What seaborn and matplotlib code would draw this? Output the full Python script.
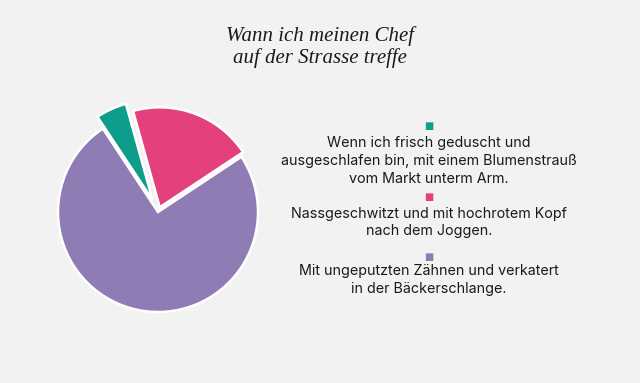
import matplotlib.pyplot as plt
import seaborn as sns

# Slice data, clockwise from the small teal slice
labels = [
    "Wenn ich frisch geduscht und\nausgeschlafen bin, mit einem Blumenstrauß\nvom Markt unterm Arm.",
    "Nassgeschwitzt und mit hochrotem Kopf\nnach dem Joggen.",
    "Mit ungeputzten Zähnen und verkatert\nin der Bäckerschlange.",
]
values = [5, 20, 75]
colors = ["#0e9c8b", "#e4407b", "#8f7cb4"]
explode = [0.13, 0.05, 0.0]
title = "Wann ich meinen Chef\nauf der Strasse treffe"


def main():
    sns.set_theme(style="white")
    bg = "#f2f2f2"
    fig = plt.figure(figsize=(6.4, 3.83), dpi=100, facecolor=bg)

    # pie axes: centre ~ (158, 212) px, radius ~100 px
    cx, cy, r = 158 / 640, 1 - 212 / 383, 100
    ax = fig.add_axes([cx - r / 640, cy - r / 383, 2 * r / 640, 2 * r / 383])
    ax.set_facecolor(bg)
    ax.pie(values, colors=colors, explode=explode, startangle=123.5,
           counterclock=False,
           wedgeprops=dict(edgecolor="white", linewidth=1.8))
    ax.set_xlim(-1, 1)
    ax.set_ylim(-1, 1)
    ax.set_aspect("equal")
    ax.axis("off")
    for p in ax.patches:
        p.set_clip_on(False)

    fig.text(0.5, 1 - 47 / 383, title, ha="center", va="center",
             family="Liberation Serif", style="italic", fontsize=15,
             color="#1a1a1a", linespacing=1.1)

    # legend: square marker above centred text
    marker_y = [126, 197, 257]
    text_y = [161, 222.5, 280]
    lx = 429 / 640
    for lab, c, my, ty in zip(labels, colors, marker_y, text_y):
        fig.text(lx, 1 - my / 383, "■", ha="center", va="center",
                 color=c, fontsize=7, family="DejaVu Sans")
        fig.text(lx, 1 - ty / 383, lab, ha="center", va="center",
                 family="Inter", fontsize=10.3, color="#1a1a1a",
                 linespacing=1.35)

    fig.savefig("out.png", dpi=100, facecolor=bg)
    plt.close(fig)


if __name__ == "__main__":
    main()
